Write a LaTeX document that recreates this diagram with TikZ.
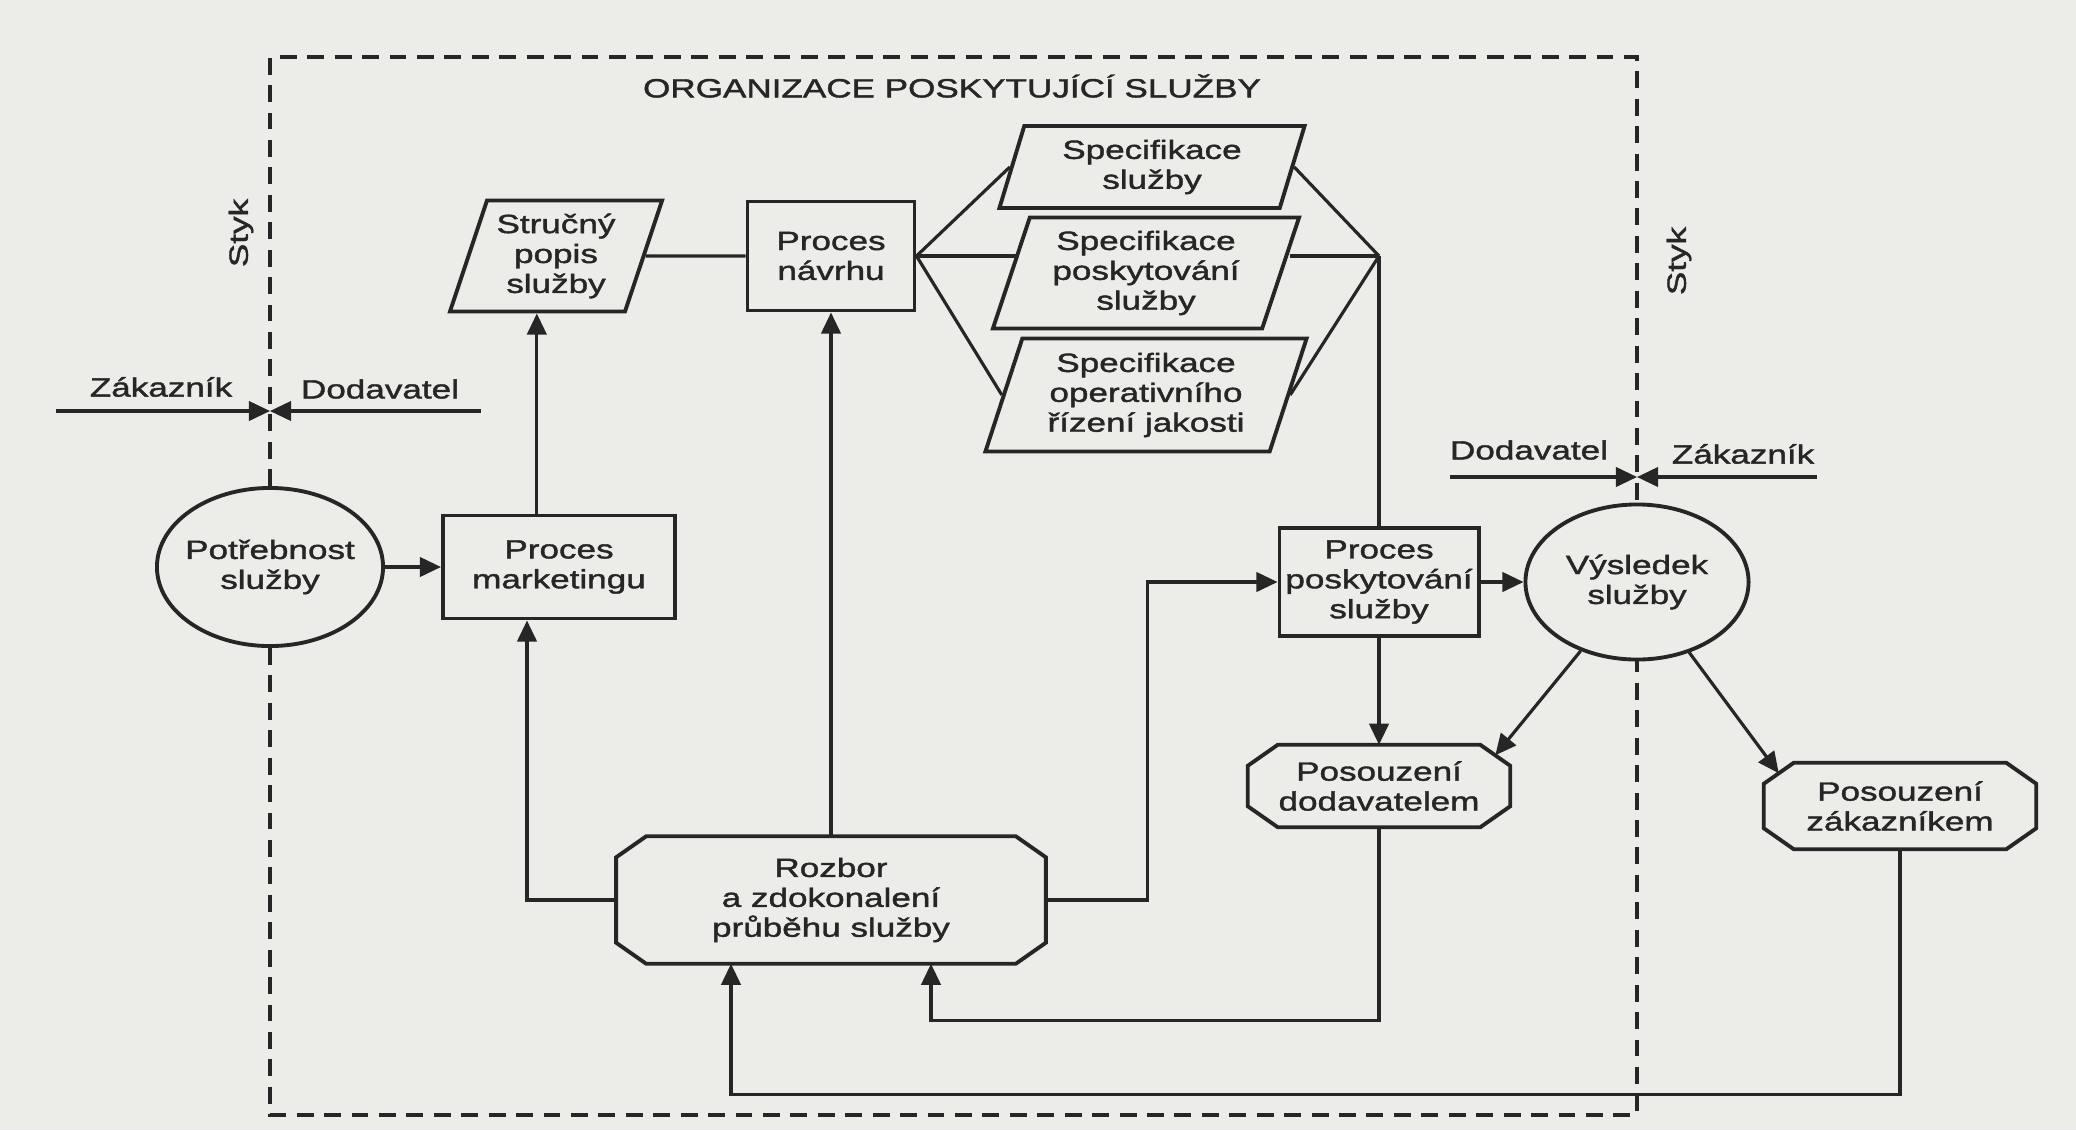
\documentclass[tikz,border=0pt]{standalone}
\usepackage{fontspec}
\setmainfont{Liberation Sans}[FakeStretch=1.33, FakeBold=1.5]
\usepackage{tikz}
\usetikzlibrary{shapes.geometric, arrows.meta, calc}
\definecolor{paper}{RGB}{236,236,233}
\definecolor{ink}{RGB}{38,38,38}
\tikzstyle{process} = [rectangle, draw=ink, line width=1.1pt, text=ink, align=center, inner sep=1pt]
\tikzstyle{spec} = [trapezium, trapezium left angle=68, trapezium right angle=112, trapezium stretches body, draw=ink, line width=1.1pt, text=ink, align=center, inner sep=1pt]
\tikzstyle{review} = [rectangle, text=ink, align=center, inner sep=1pt,
  append after command={\pgfextra{\draw [draw=ink, line width=1.1pt]
    ([xshift=0.3cm]\tikzlastnode.north west) -- ([xshift=-0.3cm]\tikzlastnode.north east)
    -- ([yshift=-0.21cm]\tikzlastnode.north east) -- ([yshift=0.21cm]\tikzlastnode.south east)
    -- ([xshift=-0.3cm]\tikzlastnode.south east) -- ([xshift=0.3cm]\tikzlastnode.south west)
    -- ([yshift=0.21cm]\tikzlastnode.south west) -- ([yshift=-0.21cm]\tikzlastnode.north west) -- cycle;}}]
\tikzstyle{outcome} = [ellipse, draw=ink, line width=1.1pt, text=ink, align=center, inner xsep=-4pt, inner ysep=0pt]
\tikzstyle{sidetext} = [text=ink]
\tikzstyle{link} = [draw=ink, line width=0.9pt]
\tikzstyle{arrow} = [draw=ink, line width=0.9pt, -{Triangle[length=6pt,width=5.5pt]}]
\tikzstyle{border} = [draw=ink, line width=0.9pt, dash pattern=on 4.8pt off 3pt]

\begin{document}
\begin{tikzpicture}[x=0.01cm, y=-0.01cm, every node/.style={font=\fontsize{7.5}{8.5}\selectfont}]
\fill [paper] (0,0) rectangle (2076,1130);
\useasboundingbox (0,0) rectangle (2076,1130);

\node (need) [outcome, minimum width=2.26cm, minimum height=1.58cm] at (270,567) {Potřebnost\\služby};
\node (mkt) [process, minimum width=2.32cm, minimum height=1.03cm] at (559,567) {Proces\\marketingu};
\node (brief) [spec, minimum width=2.12cm, minimum height=1.11cm] at (556,256) {Stručný\\popis\\služby};
\node (design) [process, minimum width=1.67cm, minimum height=1.09cm] at (831,256) {Proces\\návrhu};
\node (specsvc) [spec, minimum width=3.05cm, minimum height=0.82cm] at (1152,167) {Specifikace\\služby};
\node (specdel) [spec, minimum width=3.06cm, minimum height=1.11cm] at (1146,273) {Specifikace\\poskytování\\služby};
\node (specqc) [spec, minimum width=3.21cm, minimum height=1.13cm] at (1146,395) {Specifikace\\operativního\\řízení jakosti};
\node (delivery) [process, minimum width=1.99cm, minimum height=1.08cm] at (1379,582) {Proces\\poskytování\\služby};
\node (result) [outcome, minimum width=2.23cm, minimum height=1.55cm] at (1637,582) {Výsledek\\služby};
\node (suprev) [review, minimum width=2.61cm, minimum height=0.81cm] at (1379,786) {Posouzení\\dodavatelem};
\node (custrev) [review, minimum width=2.71cm, minimum height=0.85cm] at (1900,806) {Posouzení\\zákazníkem};
\node (analysis) [review, minimum width=4.28cm, minimum height=1.26cm] at (831,900) {Rozbor\\a zdokonalení\\průběhu služby};

\node (title) [sidetext] at (952,86) {ORGANIZACE POSKYTUJÍCÍ SLUŽBY};
\node (stykl) [sidetext, rotate=90] at (241,233) {Styk};
\node (stykr) [sidetext, rotate=90] at (1679,261) {Styk};
\node (lcustlbl) [sidetext] at (161,387) {Zákazník};
\node (lsuplbl) [sidetext] at (380,389) {Dodavatel};
\node (rsuplbl) [sidetext] at (1529,450) {Dodavatel};
\node (rcustlbl) [sidetext] at (1743,454) {Zákazník};

\coordinate (tl) at (270,57);
\coordinate (tr) at (1637,57);
\coordinate (bl) at (270,1115);
\coordinate (br) at (1637,1115);
\draw [border] (need.north) -- (tl) -- (tr) -- (result.north);
\draw [border] (need.south) -- (bl) -- (br) -- (result.south);

\coordinate (lcust) at (56,411);
\coordinate (lsup) at (481,411);
\coordinate (lstyk) at (270,411);
\coordinate (rsup) at (1450,477);
\coordinate (rcust) at (1817,477);
\coordinate (rstyk) at (1637,477);
\draw [arrow] (lcust) -- (lstyk);
\draw [arrow] (lsup) -- (lstyk);
\draw [arrow] (rsup) -- (rstyk);
\draw [arrow] (rcust) -- (rstyk);

\coordinate (join) at (delivery.north |- design.east);
\draw [link] (brief) -- (design);
\draw [link] (design.east) -- (specsvc.left side);
\draw [link] (design.east) -- ($(specdel.left side)+(7,-17)$);
\draw [link] (design.east) -- (specqc.left side);
\draw [link] (specsvc.right side) -- (join);
\draw [link] ($(specdel.right side)+(7,-17)$) -- (join);
\draw [link] (specqc.right side) -- (join);
\draw [link] (join) -- (delivery.north);

\draw [arrow] (need) -- (mkt);
\draw [arrow] (mkt.north -| brief.bottom side) -- (brief.bottom side);
\draw [arrow] (analysis.west) -| ($(mkt.south)+(-32,0)$);
\draw [arrow] (analysis.north) -- (analysis.north |- design.south);
\draw [arrow] (analysis.east) -- ++(102,0) |- (delivery.west);
\draw [arrow] (delivery) -- (result);
\draw [arrow] (delivery) -- (suprev);
\draw [arrow] (result) -- ([xshift=-0.15cm, yshift=-0.105cm]suprev.north east);
\draw [arrow] (result) -- ([xshift=0.15cm, yshift=-0.105cm]custrev.north west);
\draw [arrow] (suprev.south) -- ++(0,193) -| ($(analysis.south)+(100,0)$);
\draw [arrow] (custrev.south) -- ++(0,245) -| ($(analysis.south)+(-100,0)$);
\end{tikzpicture}
\end{document}
